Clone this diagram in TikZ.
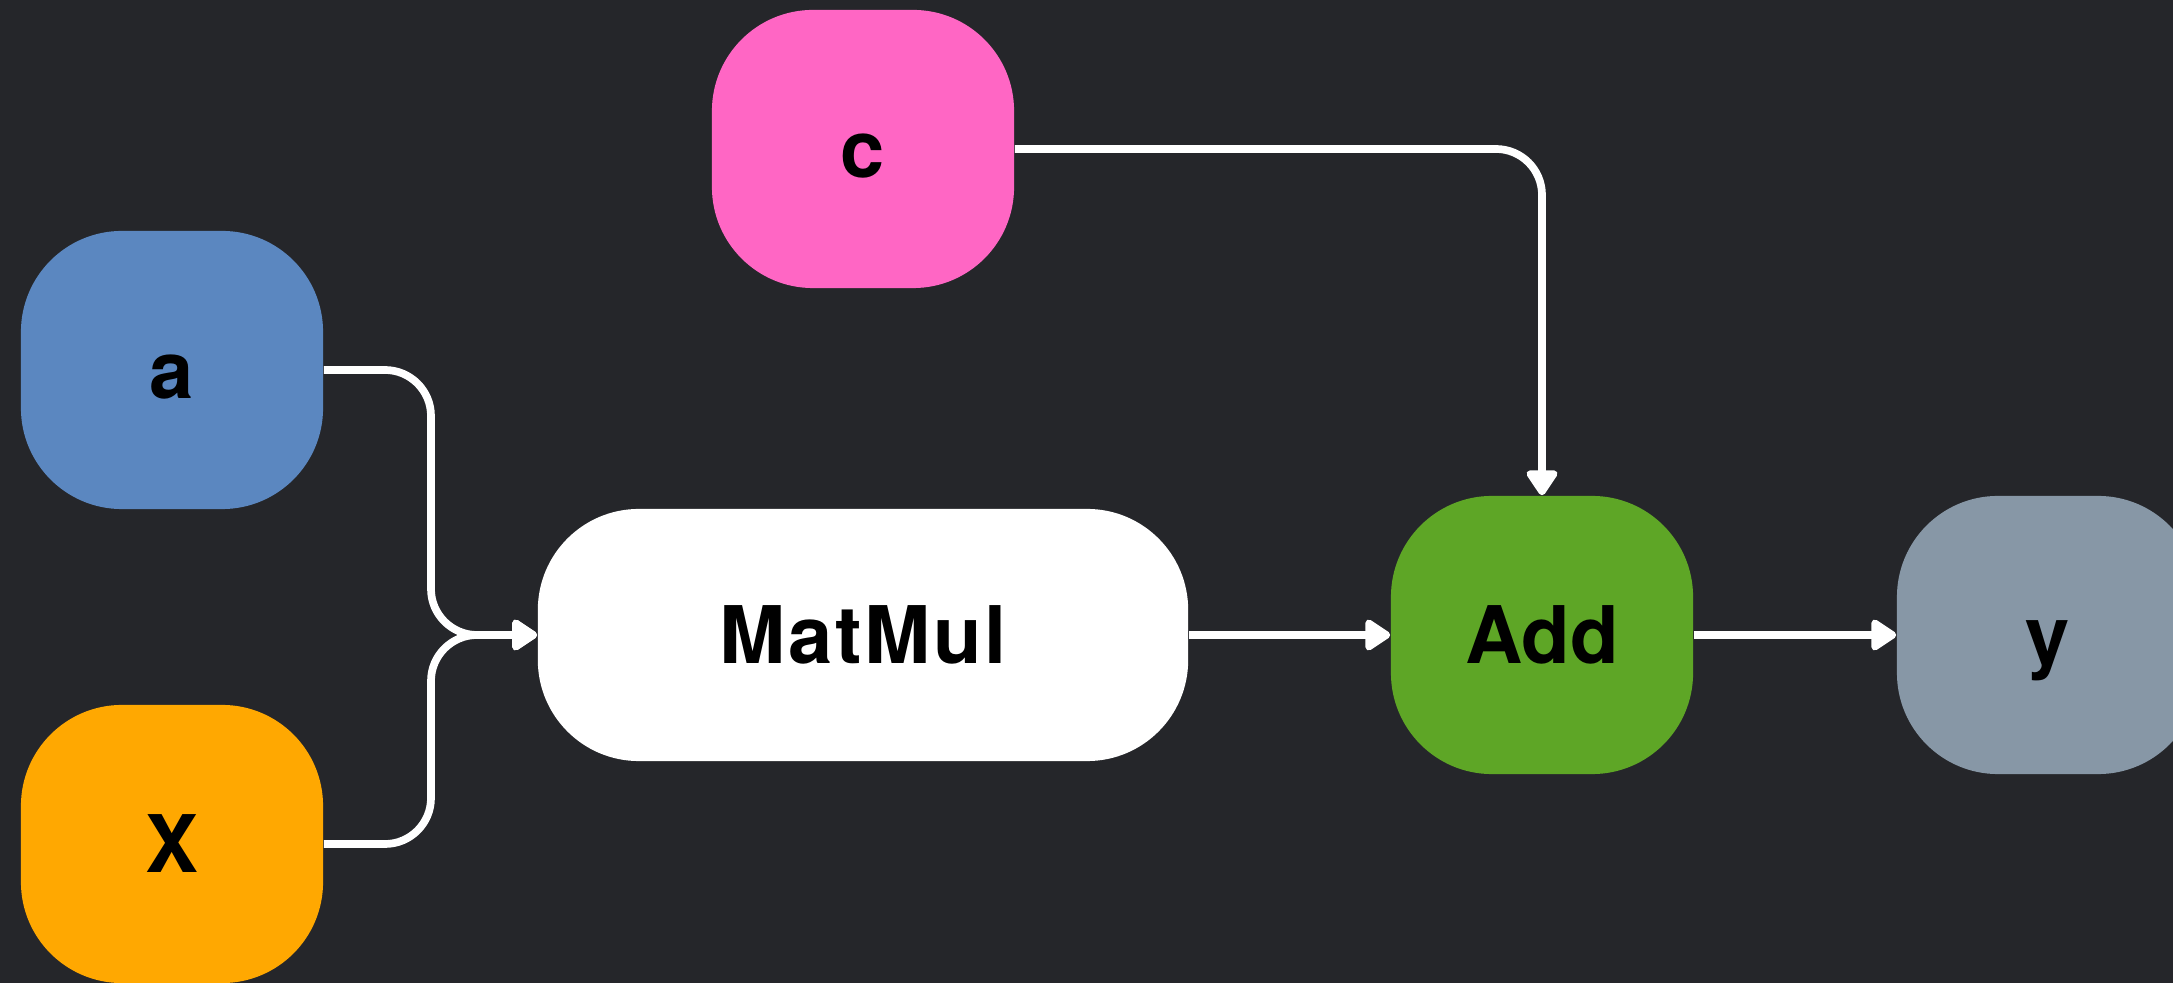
\documentclass[tikz,border=0pt]{standalone}
\usepackage{fontspec}
\setmainfont{TeX Gyre Heros}
\usetikzlibrary{arrows.meta}
\definecolor{bgdark}{HTML}{25262A}
\definecolor{cpink}{HTML}{FF66C4}
\definecolor{ablue}{HTML}{5B87C0}
\definecolor{xorange}{HTML}{FFA801}
\definecolor{addgreen}{HTML}{5EA626}
\definecolor{yslate}{HTML}{8797A6}
\tikzset{
  tensor/.style={rounded corners=1.01cm, minimum width=3.02cm, minimum height=2.78cm,
    inner sep=0pt, text=black, text height=0.57cm, text depth=0pt,
    font=\bfseries\fontsize{22.6}{27}\selectfont},
  opbox/.style={tensor},
  link/.style={draw=white, line width=0.077cm, rounded corners=0.46cm,
    -{Triangle[round, length=0.28cm, width=0.35cm]}},
}
\begin{document}
\begin{tikzpicture}[x=0.01cm, y=-0.01cm]
  \fill[bgdark] (0,0) rectangle (2173,983);
  \useasboundingbox (0,0) rectangle (2173,983);
  \clip (0,0) rectangle (2173,983);

  % operands and operators
  \node[tensor, fill=cpink]  (c)  at (863,149)  {c};
  \node[tensor, fill=ablue]  (a)  at (172,370)  {a};
  \node[tensor, fill=xorange] (x) at (172,844)  {X};
  \node[opbox, fill=white, minimum width=6.5cm, minimum height=2.52cm] (mm) at (863,635) {M\kern0.035em a\kern0.03em t\kern0.03em M\kern0.035em u\kern0.03em l};
  \node[opbox, fill=addgreen] (add) at (1542,635) {Add};
  \node[tensor, fill=yslate] (y)  at (2048,635) {y};

  % merge point in front of MatMul
  \coordinate (j) at (431,635);

  % data flow
  \draw[link] (a.east) -| (j) -- (mm.west);
  \draw[link] (x.east) -| (j) -- (mm.west);
  \draw[link] (c.east) -| (add.north);
  \draw[link] (mm.east) -- (add.west);
  \draw[link] (add.east) -- (y.west);
\end{tikzpicture}
\end{document}
